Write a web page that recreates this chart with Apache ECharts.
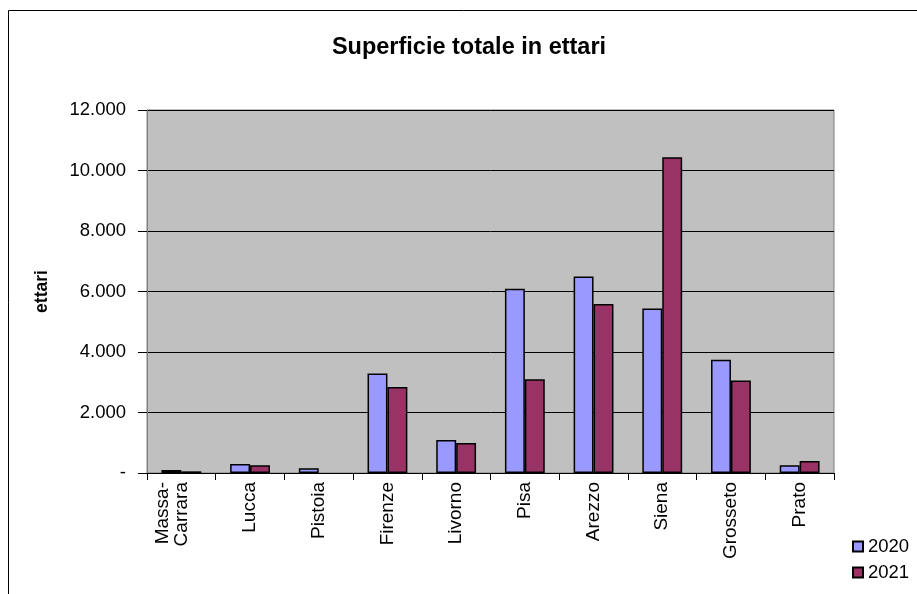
<!DOCTYPE html>
<html><head><meta charset="utf-8">
<script src="https://cdn.jsdelivr.net/npm/echarts@6/dist/echarts.min.js"></script>
<style>html,body{margin:0;padding:0;background:#fff}#c{width:917px;height:594px}</style>
</head><body><div id="c"></div>
<script>
const categories = ['Massa-Carrara','Lucca','Pistoia','Firenze','Livorno','Pisa','Arezzo','Siena','Grosseto','Prato'];
const values2020 = [100, 300, 155, 3290, 1090, 6090, 6500, 5440, 3740, 255];
const values2021 = [55, 255, 0, 2845, 995, 3100, 5590, 10440, 3055, 397];
const yTicks = [0, 2000, 4000, 6000, 8000, 10000, 12000];

const chart = echarts.init(document.getElementById('c'));
const font = 'Liberation Sans, Arial, sans-serif';
const noZero = arr => arr.map(v => v === 0 ? null : v);
chart.setOption({
  animation: false,
  backgroundColor: '#fff',
  textStyle: {fontFamily: font},
  title: {text: 'Superficie totale in ettari', left: 464, top: 31, textAlign: 'center',
    textStyle: {fontSize: 23.5, fontWeight: 'bold', color: '#000', fontFamily: font}},
  graphic: [{type: 'rect', shape: {x: 8.5, y: 10.5, width: 960, height: 640}, style: {fill: 'none', stroke: '#000', lineWidth: 1}, silent: true}],
  legend: {orient: 'vertical', left: 847, top: 532, itemWidth: 10, itemHeight: 10, itemGap: 7, itemTextGap: 6,
    textStyle: {fontSize: 18.5, color: '#000', fontFamily: font},
    data: [{name: '2020', icon: 'rect'}, {name: '2021', icon: 'rect'}]},
  grid: {left: 147, right: 83, top: 110, bottom: 121, show: true, backgroundColor: '#c0c0c0', borderColor: '#808080', borderWidth: 1},
  xAxis: {type: 'category', data: categories,
    axisLine: {lineStyle: {color: '#000'}},
    axisTick: {show: true, length: 7, lineStyle: {color: '#000'}},
    axisLabel: {rotate: 90, fontSize: 19, color: '#000', margin: 9, lineHeight: 19, fontFamily: font, interval: 0,
      formatter: v => v.includes('-') ? v.replace('-', '-\n') + '\n ' : v}},
  yAxis: {type: 'value', min: 0, max: 12000, interval: 2000,
    name: 'ettari', nameLocation: 'middle', nameGap: 96, nameRotate: 90,
    nameTextStyle: {fontSize: 17.5, fontWeight: 'bold', color: '#000', fontFamily: font},
    axisLine: {show: true, lineStyle: {color: '#808080'}},
    axisTick: {show: true, length: 9, lineStyle: {color: '#000'}},
    splitLine: {lineStyle: {color: '#000', width: 1}},
    axisLabel: {fontSize: 18.5, color: '#000', margin: 21, fontFamily: font,
      formatter: v => yTicks.includes(v) ? (v === 0 ? '-' : v.toLocaleString('de-DE')) : ''}},
  series: [
    {name: '2020', type: 'bar', data: noZero(values2020), barGap: '0%', barCategoryGap: '42%',
      itemStyle: {color: '#9999ff', borderColor: '#000', borderWidth: 1.5}},
    {name: '2021', type: 'bar', data: noZero(values2021),
      itemStyle: {color: '#993366', borderColor: '#000', borderWidth: 1.5}}
  ]
});
</script></body></html>
